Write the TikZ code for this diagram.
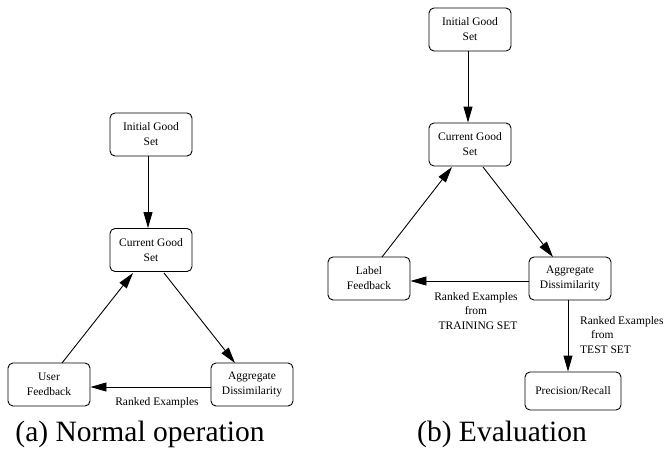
\documentclass[tikz,border=0pt]{standalone}
\usepackage{fontspec}
\setmainfont{Liberation Serif}
\usetikzlibrary{arrows.meta}
\begin{document}
\begin{tikzpicture}[x=1pt,y=-1pt,
  box/.style={draw, line width=0.9pt, rounded corners=5pt, minimum width=#1, minimum height=43pt, inner sep=0pt,
    align=center, font=\fontsize{11.5}{15}\selectfont},
  box/.default=82pt,
  conn/.style={line width=0.9pt, -{Triangle[length=16pt,width=9pt]}},
  lbl/.style={font=\fontsize{11.5}{14.5}\selectfont, inner sep=0pt},
  captext/.style={font=\fontsize{29.5}{32}\selectfont, inner sep=0pt}]
\useasboundingbox (0,0) rectangle (665,450);
% (a)
\node[box] (ai) at (151,134.5) {Initial Good\\Set};
\node[box] (ac) at (151,250) {Current Good\\Set};
\node[box] (au) at (49,384.5) {User\\Feedback};
\node[box] (aa) at (252,384.5) {Aggregate\\Dissimilarity};
\draw[conn] (ai.south -| 148,0) -- (ac.north -| 148,0);
\coordinate (au1) at (62,363);
\coordinate (ac1) at (133,273);
\coordinate (ac2) at (164,273);
\coordinate (aa1) at (235,363);
\draw[conn] (au1) -- (ac1);
\draw[conn] (ac2) -- (aa1);
\draw[conn] (aa.west |- 0,387) -- (au.east |- 0,387);
\node[lbl] (alab) at (157,403) {Ranked Examples};
\node[captext] (acap) at (140,434) {(a) Normal operation};
% (b)
\node[box] (bi) at (470,29.5) {Initial Good\\Set};
\node[box] (bc) at (470,144.5) {Current Good\\Set};
\node[box] (bl) at (369,278.5) {Label\\Feedback};
\node[box] (ba) at (570,278.5) {Aggregate\\Dissimilarity};
\node[box=96pt, minimum height=38pt] (bp) at (573,391) {Precision/Recall};
\draw[conn] (bi.south -| 468,0) -- (bc.north -| 468,0);
\coordinate (bl1) at (382,257);
\coordinate (bc1) at (452,167);
\coordinate (bc2) at (483,167);
\coordinate (ba1) at (553,257);
\draw[conn] (bl1) -- (bc1);
\draw[conn] (bc2) -- (ba1);
\draw[conn] (ba.west |- 0,281) -- (bl.east |- 0,281);
\draw[conn] (ba.south -| 568,0) -- (bp.north -| 568,0);
\node[lbl, align=center] (blab) at (476,311) {Ranked Examples\\from\\\hspace*{4pt}TRAINING SET};
\node[lbl, align=left, anchor=west] (blab2) at (580,335) {Ranked Examples\\\hspace*{11pt}from\\TEST SET};
\node[captext] (bcap) at (502,434) {(b) Evaluation};
\end{tikzpicture}
\end{document}
